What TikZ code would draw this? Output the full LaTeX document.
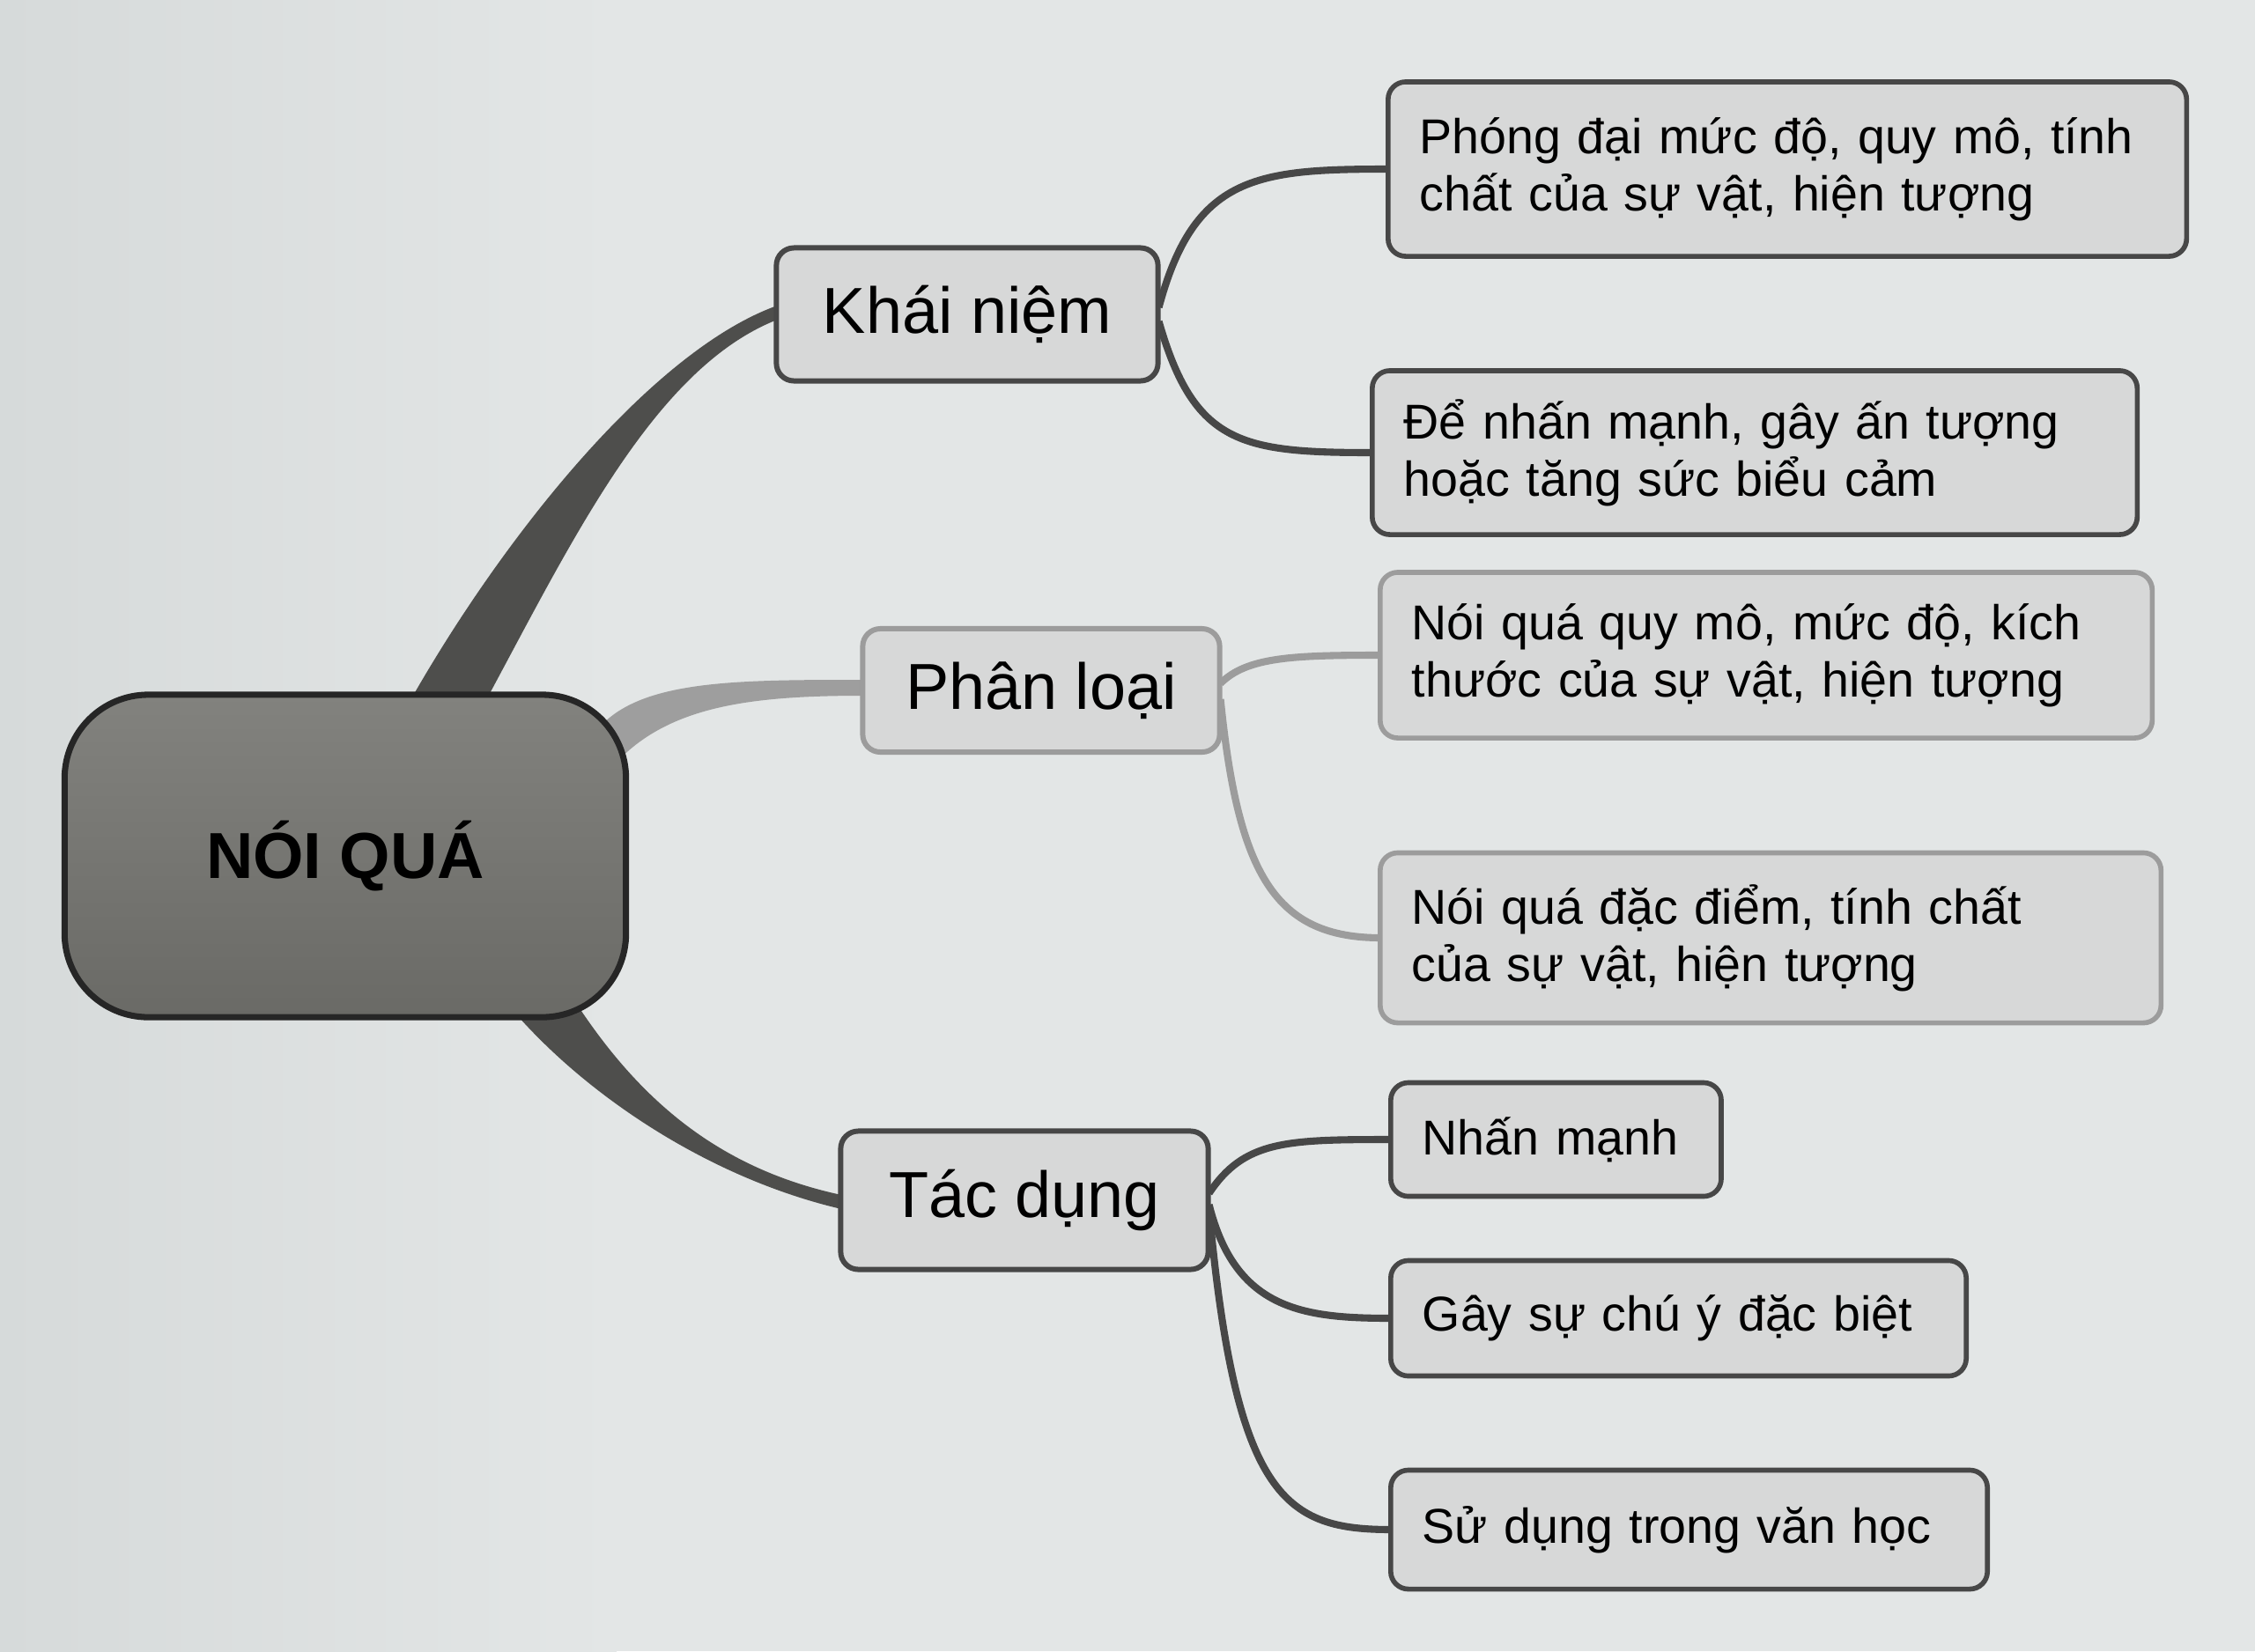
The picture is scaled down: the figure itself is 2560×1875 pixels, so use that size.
\documentclass[tikz,border=0pt]{standalone}
\usepackage{fontspec}
\setmainfont{Liberation Sans}
\usetikzlibrary{calc}
\pgfdeclarelayer{paperlayer}
\pgfdeclarelayer{bg}
\pgfsetlayers{paperlayer,bg,main}
\definecolor{paper}{HTML}{E3E6E6}
\definecolor{paperdark}{HTML}{D6DADA}
\definecolor{boxfill}{HTML}{D7D8D8}
\definecolor{darkline}{HTML}{474747}
\definecolor{lightline}{HTML}{9C9C9C}
\definecolor{branchdark}{HTML}{4E4E4C}
\definecolor{branchlight}{HTML}{9E9E9E}
\definecolor{centertop}{HTML}{82827E}
\definecolor{centerbot}{HTML}{6A6A66}
\begin{document}
\begin{tikzpicture}[x=0.01cm,y=-0.01cm,
  centerbox/.style={draw=black!85, line width=2pt, top color=centertop, bottom color=centerbot,
    rounded corners=0.95cm, minimum width=6.37cm, minimum height=3.66cm, inner sep=0pt,
    font=\fontsize{21}{24}\selectfont\bfseries},
  midbox/.style={draw=darkline, line width=1.7pt, fill=boxfill, rounded corners=0.2cm,
    inner sep=0pt, font=\fontsize{21}{24}\selectfont},
  leafbox/.style={draw=darkline, line width=1.6pt, fill=boxfill, rounded corners=0.2cm,
    font=\fontsize{15.8}{18.5}\selectfont, align=left, inner xsep=0.36cm, inner ysep=0pt, anchor=west},
  lightedge/.style={draw=lightline},
  leafline/.style={draw=darkline, line width=2.3pt},
  leaflinelight/.style={draw=lightline, line width=2.3pt}
]
\useasboundingbox (0,0) rectangle (2560,1875);
\begin{pgfonlayer}{paperlayer}
  \shade[left color=paperdark, right color=paper] (0,0) rectangle (700,1875);
  \fill[paper] (699,0) rectangle (2560,1875);
\end{pgfonlayer}

% main nodes
\node[centerbox] (c) at (392,972) {NÓI QUÁ};
\node[midbox, minimum width=4.33cm, minimum height=1.51cm] (kn) at (1098,357) {Khái niệm};
\node[midbox, lightedge, minimum width=4.05cm, minimum height=1.40cm] (pl) at (1182,784) {Phân loại};
\node[midbox, minimum width=4.17cm, minimum height=1.57cm] (td) at (1163,1363) {Tác dụng};

% leaves
\node[leafbox, text width=8.34cm, minimum height=1.98cm] (l1) at (1573,192)
  {Phóng đại mức độ, quy mô, tính\\chất của sự vật, hiện tượng};
\node[leafbox, text width=7.96cm, minimum height=1.86cm] (l2) at (1555,514)
  {Để nhấn mạnh, gây ấn tượng\\hoặc tăng sức biểu cảm};
\node[leafbox, lightedge, text width=8.04cm, minimum height=1.88cm] (l3) at (1564,744)
  {Nói quá quy mô, mức độ, kích\\thước của sự vật, hiện tượng};
\node[leafbox, lightedge, text width=8.14cm, minimum height=1.93cm] (l4) at (1564,1065)
  {Nói quá đặc điểm, tính chất\\của sự vật, hiện tượng};
\node[leafbox, text width=3.03cm, minimum height=1.29cm] (l5) at (1576,1294) {Nhấn mạnh};
\node[leafbox, text width=5.81cm, minimum height=1.31cm] (l6) at (1576,1497) {Gây sự chú ý đặc biệt};
\node[leafbox, text width=6.05cm, minimum height=1.35cm] (l7) at (1576,1737) {Sử dụng trong văn học};

\begin{pgfonlayer}{bg}
  % tapered branches from the centre
  \fill[branchdark] ($(c.north)+(71,15)$) .. controls +(110,-195) and +(-140,50) .. ($(kn.west)+(4,-10)$)
     -- ($(kn.west)+(4,6)$) .. controls +(-140,55) and +(100,-185) .. ($(c.north)+(157,15)$) -- cycle;
  \fill[branchlight] ($(c.east)+(-30,-150)$) .. controls +(50,-50) and +(-140,0) .. ($(pl.west)+(4,-12)$)
     -- ($(pl.west)+(4,6)$) .. controls +(-130,0) and +(60,-70) .. ($(c.east)+(-20,-100)$) -- cycle;
  \fill[branchdark] ($(c.south)+(265,-15)$) .. controls +(70,105) and +(-140,-30) .. ($(td.west)+(4,-6)$)
     -- ($(td.west)+(4,10)$) .. controls +(-150,-35) and +(85,100) .. ($(c.south)+(187,-15)$) -- cycle;
  % leaf connectors
  \draw[leafline] ($(kn.east)+(-2,-8)$) .. controls +(40,-150) and +(-150,0) .. ($(l1.west)+(4,0)$);
  \draw[leafline] ($(kn.east)+(-2,8)$) .. controls +(40,140) and +(-150,0) .. ($(l2.west)+(4,0)$);
  \draw[leaflinelight] ($(pl.east)+(-2,-8)$) .. controls +(30,-30) and +(-100,0) .. ($(l3.west)+(4,0)$);
  \draw[leaflinelight] ($(pl.east)+(-2,10)$) .. controls +(20,200) and +(-120,0) .. ($(l4.west)+(4,0)$);
  \draw[leafline] ($(td.east)+(-2,-8)$) .. controls +(40,-60) and +(-120,0) .. ($(l5.west)+(4,0)$);
  \draw[leafline] ($(td.east)+(-2,5)$) .. controls +(30,120) and +(-100,0) .. ($(l6.west)+(4,0)$);
  \draw[leafline] ($(td.east)+(-2,10)$) .. controls +(30,330) and +(-120,0) .. ($(l7.west)+(4,0)$);
\end{pgfonlayer}
\end{tikzpicture}
\end{document}
